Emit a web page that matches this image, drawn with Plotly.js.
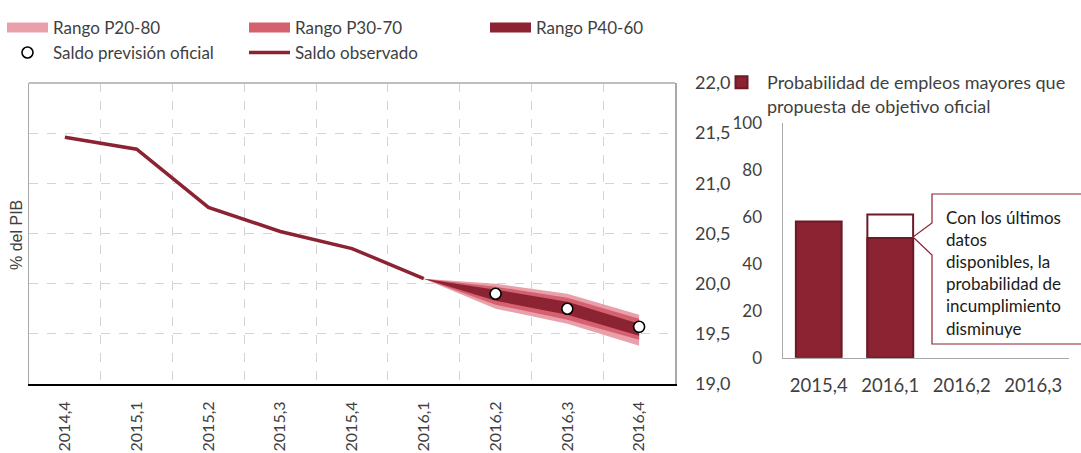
<!DOCTYPE html>
<html>
<head>
<meta charset="utf-8">
<script src="https://cdn.plot.ly/plotly-3.0.1.min.js"></script>
<style>html,body{margin:0;padding:0;background:#fff;}#chart{width:1081px;height:453px;}</style>
</head>
<body>
<div id="chart"></div>
<script>
// ---- data ----
const quarters = ['2014,4','2015,1','2015,2','2015,3','2015,4','2016,1','2016,2','2016,3','2016,4'];
const observedQuarters = ['2014,4','2015,1','2015,2','2015,3','2015,4','2016,1'];
const observed = [21.46, 21.34, 20.76, 20.52, 20.35, 20.05];
const fanQuarters = ['2016,1','2016,2','2016,3','2016,4'];
const p20 = [20.05, 19.75, 19.60, 19.38];
const p30 = [20.05, 19.79, 19.64, 19.44];
const p40 = [20.05, 19.83, 19.69, 19.48];
const p60 = [20.05, 19.94, 19.82, 19.60];
const p70 = [20.05, 19.97, 19.86, 19.65];
const p80 = [20.05, 20.00, 19.90, 19.69];
const forecastQuarters = ['2016,2','2016,3','2016,4'];
const officialForecast = [19.90, 19.75, 19.57];

const barQuarters = ['2015,4','2016,1','2016,2','2016,3'];
const probPrevious = [null, 61, null, null];
const probLatest = [58, 51, null, null];

// ---- helpers ----
const W = 1081, H = 453;
const px = v => v / W;
const py = v => 1 - v / H;
const FONT = 'Lato, "Open Sans", sans-serif';
const TXT = '#3f3f3f';
const C_LIGHT = '#e8a1ab', C_MID = '#d5606f', C_DARK = '#8b2332', C_EDGE = '#6b1a26';

function band(lo, hi) {
  return {
    x: fanQuarters.concat(fanQuarters.slice().reverse()),
    y: hi.concat(lo.slice().reverse())
  };
}
const b1 = band(p20, p80), b2 = band(p30, p70), b3 = band(p40, p60);

const data = [
  {type:'scatter', mode:'lines', x:observedQuarters, y:observed, name:'Saldo observado',
   line:{color:C_DARK, width:3.5}, legend:'legend5'},
  {type:'scatter', mode:'lines', x:b1.x, y:b1.y, fill:'toself', fillcolor:C_LIGHT,
   line:{width:0, color:C_LIGHT}, showlegend:false, hoverinfo:'skip'},
  {type:'scatter', mode:'lines', x:b2.x, y:b2.y, fill:'toself', fillcolor:C_MID,
   line:{width:0, color:C_MID}, showlegend:false, hoverinfo:'skip'},
  {type:'scatter', mode:'lines', x:b3.x, y:b3.y, fill:'toself', fillcolor:C_DARK,
   line:{width:0, color:C_DARK}, showlegend:false, hoverinfo:'skip'},
  // legend-only swatches for the bands
  {type:'scatter', mode:'lines', x:[null], y:[null], name:'Rango P20-80', line:{color:C_LIGHT, width:12}, legend:'legend'},
  {type:'scatter', mode:'lines', x:[null], y:[null], name:'Rango P30-70', line:{color:C_MID, width:12}, legend:'legend2'},
  {type:'scatter', mode:'lines', x:[null], y:[null], name:'Rango P40-60', line:{color:C_DARK, width:12}, legend:'legend3'},
  {type:'scatter', mode:'markers', x:forecastQuarters, y:officialForecast, name:'Saldo previsión oficial',
   marker:{symbol:'circle', size:11, color:'#ffffff', line:{color:'#000000', width:1.6}}, legend:'legend4'},
  {type:'bar', x:barQuarters, y:probPrevious, xaxis:'x2', yaxis:'y2', width:0.64,
   marker:{color:'#ffffff', line:{color:C_EDGE, width:2}}, showlegend:false, name:'Anterior'},
  {type:'bar', x:barQuarters, y:probLatest, xaxis:'x2', yaxis:'y2', width:0.64,
   marker:{color:C_DARK, line:{color:C_EDGE, width:2}}, legend:'legend6',
   name:'Probabilidad de empleos mayores que<br>propuesta de objetivo oficial'}
];

function leg(xp, yp, extra) {
  return Object.assign({
    orientation:'h', x:px(xp), y:py(yp), xanchor:'left', yanchor:'top', itemwidth:41,
    font:{family:FONT, size:17, color:TXT}, bgcolor:'rgba(0,0,0,0)',
    itemclick:false, itemdoubleclick:false
  }, extra || {});
}

const layout = {
  width: W, height: H,
  margin:{l:0, r:0, t:0, b:0},
  paper_bgcolor:'#ffffff', plot_bgcolor:'#ffffff',
  separators: ',.',
  font:{family:FONT, color:TXT, size:16},
  barmode:'overlay',
  showlegend:true,
  xaxis:{
    domain:[px(29), px(675)], anchor:'y', type:'category', categoryorder:'array', categoryarray:quarters,
    range:[-0.5, 8.5], tickson:'boundaries', ticks:'', tickangle:-90,
    tickfont:{family:FONT, size:16, color:TXT}, ticklabelstandoff:9,
    showgrid:true, gridcolor:'#d4d4d4', griddash:'dash', gridwidth:1,
    showline:true, linecolor:'#000000', linewidth:2, mirror:false, zeroline:false, fixedrange:true
  },
  yaxis:{
    domain:[py(384), py(83)], anchor:'x', side:'right', range:[19, 22], dtick:0.5, tickformat:'.1f',
    ticks:'', ticklabelstandoff:15, tickfont:{family:FONT, size:18, color:TXT},
    showgrid:true, gridcolor:'#d4d4d4', griddash:'dash', gridwidth:1,
    showline:true, linecolor:'#a8a8a8', linewidth:1.5, mirror:true, zeroline:false, fixedrange:true
  },
  xaxis2:{
    domain:[px(783), px(1069)], anchor:'y2', type:'category', categoryorder:'array', categoryarray:barQuarters,
    range:[-0.5, 3.5], ticks:'', ticklabelstandoff:11, tickfont:{family:FONT, size:18.5, color:TXT},
    showgrid:false, showline:true, linecolor:'#a8a8a8', linewidth:1.5, zeroline:false, fixedrange:true
  },
  yaxis2:{
    domain:[py(357.7), py(123)], anchor:'x2', range:[0, 100], dtick:20,
    ticks:'', ticklabelstandoff:16, tickfont:{family:FONT, size:17, color:TXT},
    showgrid:false, showline:true, linecolor:'#a8a8a8', linewidth:1.5, zeroline:false, fixedrange:true
  },
  legend: leg(2, 10),
  legend2: leg(244, 10),
  legend3: leg(485, 10),
  legend4: leg(2, 35),
  legend5: leg(244, 35),
  legend6: leg(716, 64, {orientation:'v', valign:'top', font:{family:FONT, size:18, color:TXT}}),
  shapes:[
    {type:'line', xref:'x domain', yref:'y domain', x0:0, x1:1, y0:1, y1:1,
     line:{color:'#a8a8a8', width:1.5}},
    {type:'path', xref:'paper', yref:'paper', layer:'above',
     path:`M ${px(1090)},${py(194)} L ${px(932)},${py(194)} L ${px(932)},${py(223)} L ${px(913)},${py(237)} L ${px(932)},${py(255)} L ${px(932)},${py(344)} L ${px(1090)},${py(344)} Z`,
     fillcolor:'#ffffff', line:{color:C_DARK, width:1.2}}
  ],
  annotations:[
    {xref:'paper', yref:'paper', x:px(16), y:py(235), text:'% del PIB', textangle:-90, showarrow:false,
     font:{family:'"Liberation Sans", Arial, sans-serif', size:16, color:TXT}, xanchor:'center', yanchor:'middle'},
    {xref:'paper', yref:'paper', x:px(944), y:py(205), xanchor:'left', yanchor:'top', align:'left', showarrow:false,
     text:'Con los últimos<br>datos<br>disponibles, la<br>probabilidad de<br>incumplimiento<br>disminuye',
     font:{family:FONT, size:17, color:'#1a1a1a'}}
  ]
};

Plotly.newPlot('chart', data, layout, {displayModeBar:false, staticPlot:true});
</script>
</body>
</html>
